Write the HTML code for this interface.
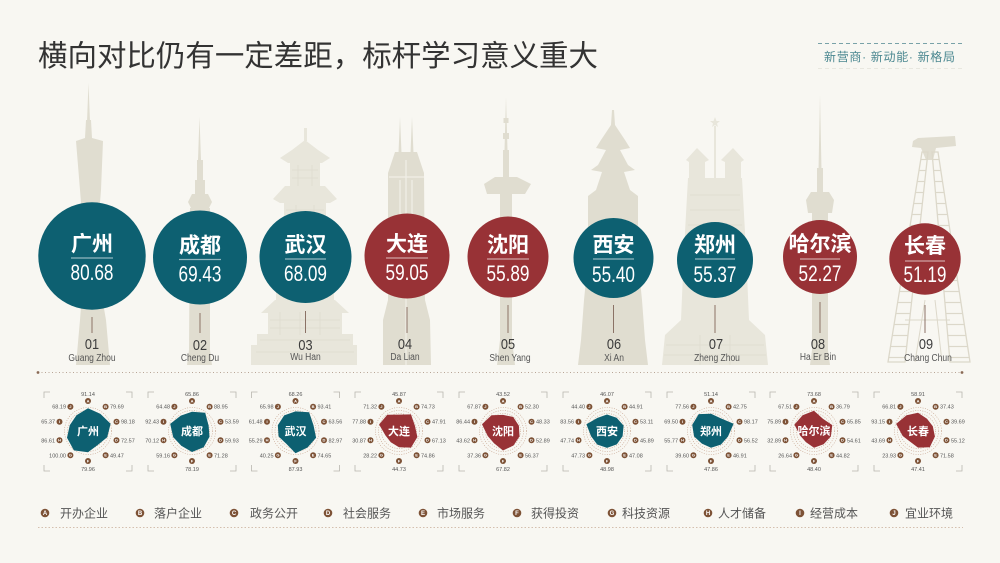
<!DOCTYPE html>
<html><head><meta charset="utf-8"><style>
html,body{margin:0;padding:0;background:#f8f7f2;}
svg{display:block;font-family:"Liberation Sans","Noto Sans CJK SC",sans-serif;}
.bd{fill:#e0ddd0;}
.bl{fill:#e8e6db;}
.ring{fill:none;stroke:#c4a08a;stroke-width:.6;stroke-dasharray:1 1.4;}
.mk{fill:#7d5236;}
.lt text{font-size:4px;fill:#fff;font-weight:bold;text-anchor:middle;}
.lv text{font-size:5.5px;fill:#555;}
.s{text-anchor:start}.e{text-anchor:end}.m{text-anchor:middle}
.rn{font-size:11px;font-weight:bold;fill:#fff;text-anchor:middle;}
.cn{font-size:21px;font-weight:bold;fill:#fff;text-anchor:middle;}
.cv{font-size:22px;fill:#fff;text-anchor:middle;}
.no{font-size:15px;fill:#3c3c3c;text-anchor:middle;}
.nm{font-size:10px;fill:#555;text-anchor:middle;}
.lg{font-size:12px;fill:#555;}
.lgl{font-size:6px;fill:#fff;font-weight:bold;text-anchor:middle;}
.cm{fill:none;stroke:#b8b6ae;stroke-width:.8;}
.vl{stroke:#8b7266;stroke-width:1;}
.hl{stroke:rgba(255,255,255,.55);stroke-width:1.2;}
</style></head><body>
<svg width="1000" height="563" viewBox="0 0 1000 563" xmlns="http://www.w3.org/2000/svg">
<defs>
<pattern id="hatch" width="8" height="11" patternUnits="userSpaceOnUse"><path d="M0 5.5H8" stroke="#dcd8ca" stroke-width="1.2"/></pattern>
<g id="mks">
<circle class="mk" cx="0" cy="-30" r="3"/><circle class="mk" cx="17.6" cy="-24.3" r="3"/><circle class="mk" cx="28.5" cy="-9.3" r="3"/><circle class="mk" cx="28.5" cy="9.3" r="3"/><circle class="mk" cx="17.6" cy="24.3" r="3"/><circle class="mk" cx="0" cy="30" r="3"/><circle class="mk" cx="-17.6" cy="24.3" r="3"/><circle class="mk" cx="-28.5" cy="9.3" r="3"/><circle class="mk" cx="-28.5" cy="-9.3" r="3"/><circle class="mk" cx="-17.6" cy="-24.3" r="3"/>
<circle class="ring" r="17.5"/><circle class="ring" r="20.5"/><circle class="ring" r="23.5"/>
<path class="cm" d="M-44 -33V-39H-38M38 -39H44V-33M-44 34V40H-38M38 40H44V34"/>
</g>
</defs>

<!-- Title -->
<text x="38" y="66" font-size="29.5" fill="#333" textLength="560" lengthAdjust="spacingAndGlyphs">横向对比仍有一定差距，标杆学习意义重大</text>
<line x1="818" y1="43.5" x2="963" y2="43.5" stroke="#79a2a8" stroke-width="1" stroke-dasharray="4 3"/>
<text x="824" y="61" font-size="12" fill="#4a8790" textLength="131" lengthAdjust="spacing">新营商· 新动能· 新格局</text>
<line x1="818" y1="68.5" x2="963" y2="68.5" stroke="#e8e7df" stroke-width="1" stroke-dasharray="4 3"/>

<!-- Buildings -->
<g class="bd">
<!-- Guangzhou -->
<polygon points="88.5,83 90,122 87,122"/>
<polygon points="86,120 91,120 92,138 103,141 101,190 97,240 99,280 106,320 110,365 76,365 80,320 83,280 84,240 80,190 76,141 85,138"/>
<!-- Chengdu -->
<polygon points="199.5,117 201,160 198,160"/>
<rect x="197" y="160" width="6" height="20"/><rect x="195" y="180" width="10" height="14"/>
<polygon points="192,194 208,194 212,202 208,210 192,210 188,202"/>
<polygon points="190,208 210,208 210,350 212,365 187,365 189,350"/>
<!-- Dalian -->
<polygon points="400,117 402,165 398,165"/><polygon points="412,117 414,165 410,165"/>
<polygon points="395,152 417,152 424,173 425,300 430,320 431,365 383,365 383,320 388,300 388,173"/>
<!-- Shenyang -->
<polygon points="506,97 507.5,150 504.5,150"/>
<rect x="503.5" y="118" width="5" height="5"/><rect x="503" y="133" width="6" height="6"/>
<rect x="503" y="150" width="6" height="28"/>
<polygon points="484,184 495,177 517,177 531,184 525,194 487,194"/>
<polygon points="500,193 512,193 512,340 515,365 497,365 500,340"/>
<!-- Xi'an -->
<polygon points="612,110 614,110 615,125 625,140 630,148 620,150 628,165 635,170 624,172 630,190 638,196 638,260 642,300 645,340 648,365 578,365 581,340 584,300 588,260 588,196 596,190 602,172 591,170 598,165 606,150 596,148 601,140 611,125"/>
<!-- Harbin -->
<polygon points="820,95 821.5,170 818.5,170"/>
<rect x="817" y="168" width="6" height="24"/>
<polygon points="811,192 829,192 834,200 832,213 808,213 806,200"/>
<polygon points="812,211 828,211 828,350 830,365 810,365 812,350"/>
<!-- Changchun -->
<polygon points="913,141 918,138 955,136 956,146 936,148 933,160 926,160 921,148 912,147"/>
</g>
<!-- Dalian light details -->
<g stroke="#f1efe7" stroke-width="1.2">
<line x1="406" y1="160" x2="406" y2="365"/><line x1="389" y1="177" x2="424" y2="177"/><line x1="400" y1="180" x2="400" y2="250"/><line x1="412" y1="180" x2="412" y2="250"/>
</g>
<g class="bl">
<!-- Wuhan -->
<rect x="304" y="128" width="3" height="13"/>
<polygon points="280,158 292,150 305,140 318,150 330,158 322,163 288,163"/>
<rect x="290" y="163" width="30" height="23"/>
<polygon points="273,199 285,186 325,186 337,199 330,203 280,203"/>
<rect x="284" y="203" width="42" height="28"/>
<polygon points="266,242 280,229 330,229 344,242 336,245 274,245"/>
<rect x="276" y="244" width="58" height="60"/>
<polygon points="261,313 275,300 335,300 349,313"/>
<rect x="268" y="312" width="74" height="23"/>
<rect x="257" y="334" width="96" height="12"/>
<rect x="251" y="345" width="106" height="20"/>
<!-- Zhengzhou -->
<polygon points="715,117 716.5,121 720,121 717,123.5 718,127 715,125 712,127 713,123.5 710,121 713.5,121"/>
<rect x="714" y="126" width="2" height="55"/>
<polygon points="686,160 697,148 709,160 705,162 705,180 689,180 689,162"/>
<polygon points="721,160 733,148 744,160 741,162 741,180 725,180 725,162"/>
<polygon points="688,178 742,178 746,250 749,320 765,335 768,365 662,365 665,335 681,320 684,250"/>
</g>
<g stroke="#dedbcf" stroke-width="0.8" fill="none">
<path d="M292 170H318M292 178H318M286 210H324M286 220H324M298 165V186M312 165V186M296 205V231M314 205V231"/>
<path d="M270 320H340M270 328H340M260 340H350M256 352H354M280 312V335M300 312V335M320 312V335"/>
<path d="M690 195H740M690 210H740M688 225H742M666 345H764M664 355H766M700 335V365M730 335V365"/>
</g>
<g fill="url(#hatch)" stroke="#dcd8ca" stroke-width="1.3">
<polygon points="922,152 928,152 905,362 888,362"/>
<polygon points="932,152 938,152 970,362 950,362"/>
</g>
<g stroke="#dcd8ca" stroke-width="1">
<line x1="925" y1="300" x2="915" y2="362"/><line x1="935" y1="300" x2="942" y2="362"/>
<line x1="905" y1="320" x2="950" y2="320"/>
</g>

<!-- Big circles -->
<circle cx="92" cy="256" r="53.7" fill="#0d6071"/>
<circle cx="200" cy="257.5" r="47" fill="#0d6071"/>
<circle cx="305.5" cy="257" r="46" fill="#0d6071"/>
<circle cx="407" cy="256" r="42.5" fill="#983236"/>
<circle cx="508" cy="257" r="40.5" fill="#983236"/>
<circle cx="613.5" cy="258" r="40" fill="#0d6071"/>
<circle cx="715" cy="260" r="38" fill="#0d6071"/>
<circle cx="820" cy="257" r="37" fill="#983236"/>
<circle cx="925" cy="259" r="35.7" fill="#983236"/>

<!-- circle texts -->
<text class="cn" x="92" y="251">广州</text><line class="hl" x1="71" y1="258" x2="113" y2="258"/><text class="cv" transform="translate(92,280) scale(0.78,1)">80.68</text>
<text class="cn" x="200" y="252.5">成都</text><line class="hl" x1="179" y1="259.5" x2="221" y2="259.5"/><text class="cv" transform="translate(200,281.5) scale(0.78,1)">69.43</text>
<text class="cn" x="305.5" y="252">武汉</text><line class="hl" x1="285" y1="259" x2="326" y2="259"/><text class="cv" transform="translate(305.5,281) scale(0.78,1)">68.09</text>
<text class="cn" x="407" y="251">大连</text><line class="hl" x1="386" y1="258" x2="428" y2="258"/><text class="cv" transform="translate(407,280) scale(0.78,1)">59.05</text>
<text class="cn" x="508" y="252">沈阳</text><line class="hl" x1="487" y1="259" x2="529" y2="259"/><text class="cv" transform="translate(508,281) scale(0.78,1)">55.89</text>
<text class="cn" x="613.5" y="252">西安</text><line class="hl" x1="593" y1="259" x2="634" y2="259"/><text class="cv" transform="translate(613.5,282) scale(0.78,1)">55.40</text>
<text class="cn" x="715" y="252">郑州</text><line class="hl" x1="695" y1="259" x2="735" y2="259"/><text class="cv" transform="translate(715,282) scale(0.78,1)">55.37</text>
<text class="cn" x="820" y="251" font-size="16">哈尔滨</text><line class="hl" x1="800" y1="259" x2="840" y2="259"/><text class="cv" transform="translate(820,281) scale(0.78,1)">52.27</text>
<text class="cn" x="925" y="253">长春</text><line class="hl" x1="905" y1="261" x2="945" y2="261"/><text class="cv" transform="translate(925,282) scale(0.78,1)">51.19</text>

<!-- ranks -->
<line class="vl" x1="92" y1="317" x2="92" y2="333"/>
<line class="vl" x1="200" y1="313" x2="200" y2="333"/>
<line class="vl" x1="305.5" y1="311" x2="305.5" y2="333"/>
<line class="vl" x1="407" y1="307" x2="407" y2="333"/>
<line class="vl" x1="508" y1="305" x2="508" y2="333"/>
<line class="vl" x1="613.5" y1="305" x2="613.5" y2="333"/>
<line class="vl" x1="715" y1="305" x2="715" y2="333"/>
<line class="vl" x1="820" y1="302" x2="820" y2="333"/>
<line class="vl" x1="925" y1="305" x2="925" y2="333"/>
<g>
<text class="no" transform="translate(92,349) scale(0.85,1)">01</text><text class="nm" transform="translate(92,361) scale(0.85,1)">Guang Zhou</text>
<text class="no" transform="translate(200,350) scale(0.85,1)">02</text><text class="nm" transform="translate(200,361) scale(0.85,1)">Cheng Du</text>
<text class="no" transform="translate(305.5,350) scale(0.85,1)">03</text><text class="nm" transform="translate(305.5,360) scale(0.85,1)">Wu Han</text>
<text class="no" transform="translate(405,349) scale(0.85,1)">04</text><text class="nm" transform="translate(405,360) scale(0.85,1)">Da Lian</text>
<text class="no" transform="translate(508,349) scale(0.85,1)">05</text><text class="nm" transform="translate(510,361) scale(0.85,1)">Shen Yang</text>
<text class="no" transform="translate(614,349) scale(0.85,1)">06</text><text class="nm" transform="translate(614,361) scale(0.85,1)">Xi An</text>
<text class="no" transform="translate(716,349) scale(0.85,1)">07</text><text class="nm" transform="translate(717,361) scale(0.85,1)">Zheng Zhou</text>
<text class="no" transform="translate(818,349) scale(0.85,1)">08</text><text class="nm" transform="translate(818,360) scale(0.85,1)">Ha Er Bin</text>
<text class="no" transform="translate(926,349) scale(0.85,1)">09</text><text class="nm" transform="translate(928,361) scale(0.85,1)">Chang Chun</text>
</g>

<!-- dotted separator -->
<line x1="38" y1="372.5" x2="962" y2="372.5" stroke="#b8a596" stroke-width="1" stroke-dasharray="1 2.5"/>
<circle cx="38" cy="372.5" r="1.4" fill="#8a6a55"/><circle cx="962" cy="372.5" r="1.4" fill="#8a6a55"/>

<!-- Radars -->
<g transform="translate(88,431)">
<use href="#mks"/>
<polygon points="0,-22.8 12.4,-17.1 22.6,-7.3 19.2,6.2 10,13.7 0,21.2 -14.1,19.4 -21,6.8 -18.2,-5.9 -11.5,-15.8" fill="#0d6071"/>
<text class="rn" y="4">广州</text>
<g class="lt"><text x="0" y="-28.6">A</text><text x="17.6" y="-22.9">B</text><text x="28.5" y="-7.9">C</text><text x="28.5" y="10.7">D</text><text x="17.6" y="25.7">E</text><text x="0" y="31.4">F</text><text x="-17.6" y="25.7">G</text><text x="-28.5" y="10.7">H</text><text x="-28.5" y="-7.9">I</text><text x="-17.6" y="-22.9">J</text></g>
<g class="lv"><text class="m" x="0" y="-35">91.14</text><text class="s" x="22" y="-22.3">79.69</text><text class="s" x="33" y="-7.3">98.18</text><text class="s" x="33" y="11.3">72.57</text><text class="s" x="22" y="26.3">49.47</text><text class="m" x="0" y="40">79.96</text><text class="e" x="-22" y="26.3">100.00</text><text class="e" x="-33" y="11.3">86.61</text><text class="e" x="-33" y="-7.3">65.37</text><text class="e" x="-22" y="-22.3">68.19</text></g>
</g>

<g transform="translate(192,431)">
<use href="#mks"/>
<polygon points="0,-19.2 13.2,-18.2 16.6,-5.4 17.5,5.7 11.7,16.2 0,21 -10.7,14.8 -18.8,6.1 -21.8,-7.1 -11.2,-15.4" fill="#0d6071"/>
<text class="rn" y="4">成都</text>
<g class="lt"><text x="0" y="-28.6">A</text><text x="17.6" y="-22.9">B</text><text x="28.5" y="-7.9">C</text><text x="28.5" y="10.7">D</text><text x="17.6" y="25.7">E</text><text x="0" y="31.4">F</text><text x="-17.6" y="25.7">G</text><text x="-28.5" y="10.7">H</text><text x="-28.5" y="-7.9">I</text><text x="-17.6" y="-22.9">J</text></g>
<g class="lv"><text class="m" x="0" y="-35">65.86</text><text class="s" x="22" y="-22.3">88.95</text><text class="s" x="33" y="-7.3">53.59</text><text class="s" x="33" y="11.3">59.93</text><text class="s" x="22" y="26.3">71.28</text><text class="m" x="0" y="40">78.19</text><text class="e" x="-22" y="26.3">59.16</text><text class="e" x="-33" y="11.3">70.12</text><text class="e" x="-33" y="-7.3">92.43</text><text class="e" x="-22" y="-22.3">64.48</text></g>
</g>

<g transform="translate(295.5,431)">
<use href="#mks"/>
<polygon points="0,-19.6 13.6,-18.7 18,-5.8 20.6,6.7 12,16.5 0,22.3 -9.2,12.7 -16.9,5.5 -17.7,-5.8 -11.3,-15.6" fill="#0d6071"/>
<text class="rn" y="4">武汉</text>
<g class="lt"><text x="0" y="-28.6">A</text><text x="17.6" y="-22.9">B</text><text x="28.5" y="-7.9">C</text><text x="28.5" y="10.7">D</text><text x="17.6" y="25.7">E</text><text x="0" y="31.4">F</text><text x="-17.6" y="25.7">G</text><text x="-28.5" y="10.7">H</text><text x="-28.5" y="-7.9">I</text><text x="-17.6" y="-22.9">J</text></g>
<g class="lv"><text class="m" x="0" y="-35">68.26</text><text class="s" x="22" y="-22.3">93.41</text><text class="s" x="33" y="-7.3">63.56</text><text class="s" x="33" y="11.3">82.97</text><text class="s" x="22" y="26.3">74.65</text><text class="m" x="0" y="40">87.93</text><text class="e" x="-22" y="26.3">40.25</text><text class="e" x="-33" y="11.3">55.29</text><text class="e" x="-33" y="-7.3">61.48</text><text class="e" x="-22" y="-22.3">65.98</text></g>
</g>

<g transform="translate(399,431)">
<use href="#mks"/>
<polygon points="0,-16.4 12,-16.6 15.9,-5.2 18.4,6 12,16.6 0,16.3 -8.2,11.3 -13.6,4.4 -19.9,-6.5 -11.7,-16.2" fill="#983236"/>
<text class="rn" y="4">大连</text>
<g class="lt"><text x="0" y="-28.6">A</text><text x="17.6" y="-22.9">B</text><text x="28.5" y="-7.9">C</text><text x="28.5" y="10.7">D</text><text x="17.6" y="25.7">E</text><text x="0" y="31.4">F</text><text x="-17.6" y="25.7">G</text><text x="-28.5" y="10.7">H</text><text x="-28.5" y="-7.9">I</text><text x="-17.6" y="-22.9">J</text></g>
<g class="lv"><text class="m" x="0" y="-35">45.87</text><text class="s" x="22" y="-22.3">74.73</text><text class="s" x="33" y="-7.3">47.91</text><text class="s" x="33" y="11.3">67.13</text><text class="s" x="22" y="26.3">74.86</text><text class="m" x="0" y="40">44.73</text><text class="e" x="-22" y="26.3">28.22</text><text class="e" x="-33" y="11.3">30.87</text><text class="e" x="-33" y="-7.3">77.88</text><text class="e" x="-22" y="-22.3">71.32</text></g>
</g>

<g transform="translate(503,431)">
<use href="#mks"/>
<polygon points="0,-16.1 10.2,-14 15.9,-5.2 16.5,5.4 10.5,14.5 0,19.5 -9,12.3 -15.3,5 -21,-6.8 -11.5,-15.8" fill="#983236"/>
<text class="rn" y="4">沈阳</text>
<g class="lt"><text x="0" y="-28.6">A</text><text x="17.6" y="-22.9">B</text><text x="28.5" y="-7.9">C</text><text x="28.5" y="10.7">D</text><text x="17.6" y="25.7">E</text><text x="0" y="31.4">F</text><text x="-17.6" y="25.7">G</text><text x="-28.5" y="10.7">H</text><text x="-28.5" y="-7.9">I</text><text x="-17.6" y="-22.9">J</text></g>
<g class="lv"><text class="m" x="0" y="-35">43.52</text><text class="s" x="22" y="-22.3">52.30</text><text class="s" x="33" y="-7.3">48.33</text><text class="s" x="33" y="11.3">52.89</text><text class="s" x="22" y="26.3">56.37</text><text class="m" x="0" y="40">67.82</text><text class="e" x="-22" y="26.3">37.36</text><text class="e" x="-33" y="11.3">43.62</text><text class="e" x="-33" y="-7.3">86.44</text><text class="e" x="-22" y="-22.3">67.87</text></g>
</g>

<g transform="translate(607,431)">
<use href="#mks"/>
<polygon points="0,-16.5 9.6,-13.2 16.6,-5.4 15.6,5.1 9.8,13.4 0,16.9 -9.8,13.5 -15.9,5.2 -20.6,-6.7 -9.5,-13.1" fill="#0d6071"/>
<text class="rn" y="4">西安</text>
<g class="lt"><text x="0" y="-28.6">A</text><text x="17.6" y="-22.9">B</text><text x="28.5" y="-7.9">C</text><text x="28.5" y="10.7">D</text><text x="17.6" y="25.7">E</text><text x="0" y="31.4">F</text><text x="-17.6" y="25.7">G</text><text x="-28.5" y="10.7">H</text><text x="-28.5" y="-7.9">I</text><text x="-17.6" y="-22.9">J</text></g>
<g class="lv"><text class="m" x="0" y="-35">46.07</text><text class="s" x="22" y="-22.3">44.91</text><text class="s" x="33" y="-7.3">53.11</text><text class="s" x="33" y="11.3">45.89</text><text class="s" x="22" y="26.3">47.08</text><text class="m" x="0" y="40">48.98</text><text class="e" x="-22" y="26.3">47.73</text><text class="e" x="-33" y="11.3">47.74</text><text class="e" x="-33" y="-7.3">83.56</text><text class="e" x="-22" y="-22.3">44.40</text></g>
</g>

<g transform="translate(711,431)">
<use href="#mks"/>
<polygon points="0,-17.2 9.4,-12.9 22.6,-7.3 17,5.5 9.9,13.6 0,16.7 -9.1,12.6 -16.9,5.5 -18.8,-6.1 -12.3,-16.9" fill="#0d6071"/>
<text class="rn" y="4">郑州</text>
<g class="lt"><text x="0" y="-28.6">A</text><text x="17.6" y="-22.9">B</text><text x="28.5" y="-7.9">C</text><text x="28.5" y="10.7">D</text><text x="17.6" y="25.7">E</text><text x="0" y="31.4">F</text><text x="-17.6" y="25.7">G</text><text x="-28.5" y="10.7">H</text><text x="-28.5" y="-7.9">I</text><text x="-17.6" y="-22.9">J</text></g>
<g class="lv"><text class="m" x="0" y="-35">51.14</text><text class="s" x="22" y="-22.3">42.75</text><text class="s" x="33" y="-7.3">98.17</text><text class="s" x="33" y="11.3">56.52</text><text class="s" x="22" y="26.3">46.91</text><text class="m" x="0" y="40">47.86</text><text class="e" x="-22" y="26.3">39.60</text><text class="e" x="-33" y="11.3">55.77</text><text class="e" x="-33" y="-7.3">69.50</text><text class="e" x="-22" y="-22.3">77.56</text></g>
</g>

<g transform="translate(814,431)">
<use href="#mks"/>
<polygon points="0,-20.3 8.9,-12.3 18.3,-5.9 16.8,5.5 9.6,13.2 0,16.8 -8.1,11.1 -13.9,4.5 -19.6,-6.4 -11.4,-15.7" fill="#983236"/>
<text class="rn" y="3.5" font-size="9">哈尔滨</text>
<g class="lt"><text x="0" y="-28.6">A</text><text x="17.6" y="-22.9">B</text><text x="28.5" y="-7.9">C</text><text x="28.5" y="10.7">D</text><text x="17.6" y="25.7">E</text><text x="0" y="31.4">F</text><text x="-17.6" y="25.7">G</text><text x="-28.5" y="10.7">H</text><text x="-28.5" y="-7.9">I</text><text x="-17.6" y="-22.9">J</text></g>
<g class="lv"><text class="m" x="0" y="-35">73.68</text><text class="s" x="22" y="-22.3">36.79</text><text class="s" x="33" y="-7.3">65.85</text><text class="s" x="33" y="11.3">54.61</text><text class="s" x="22" y="26.3">44.82</text><text class="m" x="0" y="40">48.40</text><text class="e" x="-22" y="26.3">26.64</text><text class="e" x="-33" y="11.3">32.89</text><text class="e" x="-33" y="-7.3">75.89</text><text class="e" x="-22" y="-22.3">67.51</text></g>
</g>

<g transform="translate(918,431)">
<use href="#mks"/>
<polygon points="0,-18.3 9,-12.3 14.8,-4.8 16.9,5.5 11.8,16.2 0,16.6 -7.8,10.8 -15.3,5 -21.9,-7.1 -11.4,-15.7" fill="#983236"/>
<text class="rn" y="4">长春</text>
<g class="lt"><text x="0" y="-28.6">A</text><text x="17.6" y="-22.9">B</text><text x="28.5" y="-7.9">C</text><text x="28.5" y="10.7">D</text><text x="17.6" y="25.7">E</text><text x="0" y="31.4">F</text><text x="-17.6" y="25.7">G</text><text x="-28.5" y="10.7">H</text><text x="-28.5" y="-7.9">I</text><text x="-17.6" y="-22.9">J</text></g>
<g class="lv"><text class="m" x="0" y="-35">58.91</text><text class="s" x="22" y="-22.3">37.43</text><text class="s" x="33" y="-7.3">39.69</text><text class="s" x="33" y="11.3">55.12</text><text class="s" x="22" y="26.3">71.58</text><text class="m" x="0" y="40">47.41</text><text class="e" x="-22" y="26.3">23.93</text><text class="e" x="-33" y="11.3">43.69</text><text class="e" x="-33" y="-7.3">93.15</text><text class="e" x="-22" y="-22.3">66.81</text></g>
</g>

<!-- Legend -->
<g>
<circle class="mk" cx="45" cy="513" r="4.3"/><text class="lgl" x="45" y="515">A</text><text class="lg" x="60" y="517.5">开办企业</text>
<circle class="mk" cx="140" cy="513" r="4.3"/><text class="lgl" x="140" y="515">B</text><text class="lg" x="154" y="517.5">落户企业</text>
<circle class="mk" cx="234" cy="513" r="4.3"/><text class="lgl" x="234" y="515">C</text><text class="lg" x="250" y="517.5">政务公开</text>
<circle class="mk" cx="328" cy="513" r="4.3"/><text class="lgl" x="328" y="515">D</text><text class="lg" x="343" y="517.5">社会服务</text>
<circle class="mk" cx="423" cy="513" r="4.3"/><text class="lgl" x="423" y="515">E</text><text class="lg" x="437" y="517.5">市场服务</text>
<circle class="mk" cx="517" cy="513" r="4.3"/><text class="lgl" x="517" y="515">F</text><text class="lg" x="531" y="517.5">获得投资</text>
<circle class="mk" cx="612" cy="513" r="4.3"/><text class="lgl" x="612" y="515">G</text><text class="lg" x="622" y="517.5">科技资源</text>
<circle class="mk" cx="708" cy="513" r="4.3"/><text class="lgl" x="708" y="515">H</text><text class="lg" x="718" y="517.5">人才储备</text>
<circle class="mk" cx="800" cy="513" r="4.3"/><text class="lgl" x="800" y="515">I</text><text class="lg" x="810" y="517.5">经营成本</text>
<circle class="mk" cx="894" cy="513" r="4.3"/><text class="lgl" x="894" y="515">J</text><text class="lg" x="905" y="517.5">宜业环境</text>
</g>
<line x1="38" y1="527.5" x2="963" y2="527.5" stroke="#d4bfae" stroke-width="1" stroke-dasharray="1.5 2"/>
</svg>
</body></html>
